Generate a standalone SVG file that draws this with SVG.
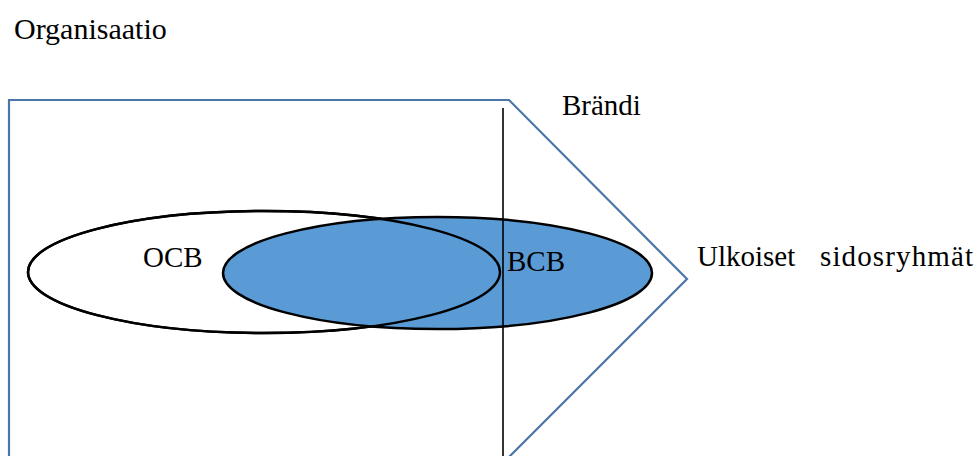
<svg xmlns="http://www.w3.org/2000/svg" width="978" height="456" viewBox="0 0 978 456">
<style>
text{font-family:"Liberation Serif","Times New Roman",serif;font-size:29px;fill:#000}
.outline{fill:none;stroke:#4a76a8;stroke-width:2.2}
.ell{stroke:#000;stroke-width:2.5}
</style>
<rect width="978" height="456" fill="#fff"/>
<g id="organisaatio">
<path class="outline" d="M9,458 L9,100 L509,100 L687,279 L508,458"/>
<text x="14" y="39" style="font-size:30px">Organisaatio</text>
</g>
<g id="ocb-fill">
<ellipse cx="264" cy="272" rx="236" ry="61" fill="#fff" class="ell"/>
</g>
<g id="bcb">
<ellipse cx="437.5" cy="273" rx="214.5" ry="56" fill="#5b9bd5" class="ell"/>
<text x="507" y="271">BCB</text>
</g>
<g id="ocb">
<ellipse cx="264" cy="272" rx="236" ry="61" fill="none" class="ell"/>
<text x="143" y="267">OCB</text>
</g>
<g id="connectors">
<line x1="503" y1="108" x2="503" y2="456" stroke="#000" stroke-width="1.6"/>
</g>
<g id="brandi">
<text x="562" y="115">Brändi</text>
</g>
<g id="ulkoiset">
<text x="697" y="266">Ulkoiset <tspan x="820" textLength="153">sidosryhmät</tspan></text>
</g>
</svg>
